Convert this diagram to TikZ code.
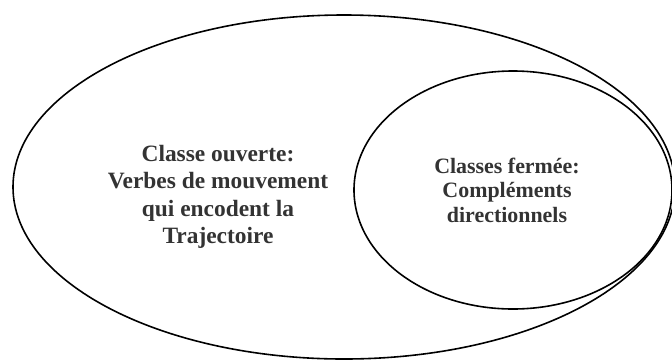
\documentclass[tikz,border=0pt]{standalone}
\usepackage{fontspec}
\setmainfont{Liberation Serif}
\usetikzlibrary{shapes.geometric}
\usetikzlibrary{positioning}

\begin{document}
\begin{tikzpicture}[x=1bp, y=-1bp,
  classe/.style={ellipse, draw=black, line width=1.6pt, inner sep=0pt},
  etiquette/.style={align=center, text=black!80, font=\bfseries\fontsize{23.5}{27.5}\selectfont}]

        % Frame of the picture
        \useasboundingbox (0, 0) rectangle (672, 361);
        \clip (0, 0) rectangle (672, 361);

        % Open class (outer set)
        \node[classe, minimum width=662bp, minimum height=344bp] (ouverte) at (344, 187) {};

        % Closed class (inner set)
        \node[classe, minimum width=318bp, minimum height=238bp] (fermee) at (513, 190) {};

        % Labels of both sets
        \node[etiquette] (txtouverte) at (218, 197)
          {Classe ouverte:\\Verbes de mouvement\\qui encodent la\\Trajectoire};
        \node[etiquette, font=\bfseries\fontsize{22}{24.5}\selectfont] (txtfermee) at (507, 190)
          {Classes fermée:\\Compléments\\directionnels};

      \end{tikzpicture}
\end{document}
